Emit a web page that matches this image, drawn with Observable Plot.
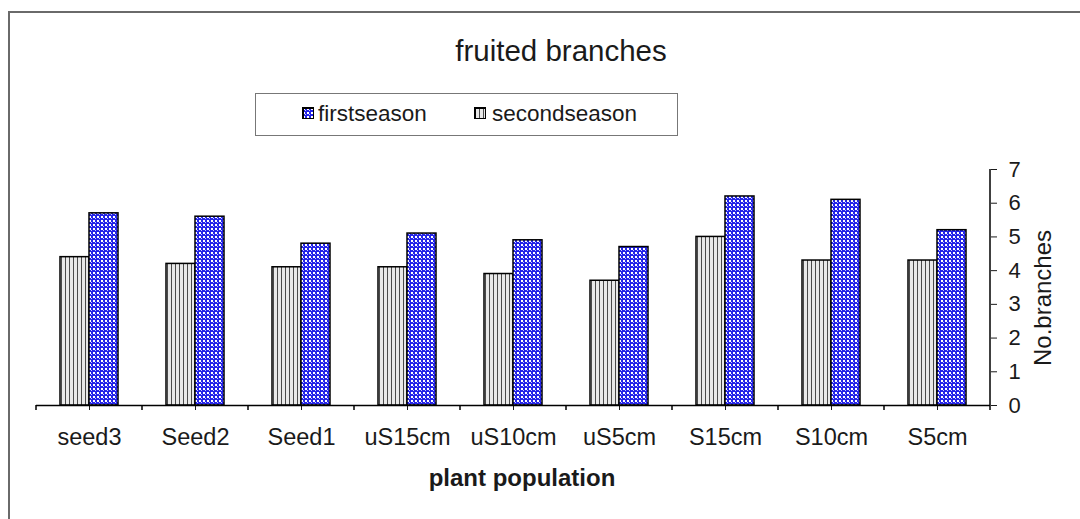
<!DOCTYPE html>
<html><head><meta charset="utf-8">
<script src="https://cdn.jsdelivr.net/npm/d3@7"></script>
<script src="https://cdn.jsdelivr.net/npm/@observablehq/plot@0.6"></script>
<style>
body{margin:0;background:#fff;font-family:Arial,"Liberation Sans",sans-serif;color:#1a1a1a;}
#wrap{position:relative;width:1080px;height:519px;overflow:hidden;background:#fff;}
#frame{position:absolute;left:8px;top:11px;width:1200px;height:600px;border:2px solid #6a6a6a;box-sizing:border-box;}
#chart{position:absolute;left:0;top:0;}
#title{position:absolute;left:0;width:1122px;top:36px;text-align:center;font-size:29.5px;line-height:1;}
#legend{position:absolute;left:255px;top:93px;width:423px;height:43px;border:1.5px solid #777;box-sizing:border-box;background:#fff;}
.sw{position:absolute;width:12px;height:12px;top:13px;border:1px solid #000;box-sizing:border-box;}
.lt{position:absolute;top:9px;font-size:22.5px;line-height:1;white-space:nowrap;}
#xlabel{position:absolute;left:0;width:1044px;top:466px;text-align:center;font-size:24px;font-weight:bold;line-height:1;}
#ylabel{position:absolute;left:1043px;top:298px;transform:translate(-50%,-50%) rotate(-90deg);font-size:24px;line-height:1;white-space:nowrap;}
</style></head><body>
<svg width="0" height="0" style="position:absolute">
  <defs>
    <pattern id="blueCheck" width="4" height="4" patternUnits="userSpaceOnUse">
      <rect width="4" height="4" fill="#2424e8"/>
      <rect x="0" y="0" width="2" height="2" fill="#ffffff"/>
      <rect x="2" y="2" width="1" height="1" fill="#c8c8ff"/>
    </pattern>
    <pattern id="grayStripe" width="4" height="4" patternUnits="userSpaceOnUse">
      <rect width="4" height="4" fill="#e8e8e8"/>
      <rect x="0" y="0" width="1" height="4" fill="#4a4a4a"/>
    </pattern>
  </defs>
</svg>
<div id="wrap">
  <div id="frame"></div>
  <div id="chart"></div>
  <div id="title">fruited branches</div>
  <div id="legend">
    <svg class="sw" style="left:46px" width="12" height="12"><rect width="12" height="12" fill="url(#blueCheck)" stroke="#000" stroke-width="2"/></svg>
    <div class="lt" style="left:62px">firstseason</div>
    <svg class="sw" style="left:218px" width="12" height="12"><rect width="12" height="12" fill="url(#grayStripe)" stroke="#000" stroke-width="2"/></svg>
    <div class="lt" style="left:236px">secondseason</div>
  </div>
  <div id="xlabel">plant population</div>
  <div id="ylabel">No.branches</div>
</div>
<script>
const categories = ["seed3","Seed2","Seed1","uS15cm","uS10cm","uS5cm","S15cm","S10cm","S5cm"];
const firstSeason = [5.7,5.6,4.8,5.1,4.9,4.7,6.2,6.1,5.2];
const secondSeason = [4.4,4.2,4.1,4.1,3.9,3.7,5.0,4.3,4.3];
const seriesNames = ["secondseason","firstseason"];
const yTicks = [0,1,2,3,4,5,6,7];

const rows = [];
categories.forEach((c,i)=>{
  rows.push({category:c, season:"secondseason", value:secondSeason[i]});
  rows.push({category:c, season:"firstseason", value:firstSeason[i]});
});

const plot = Plot.plot({
  width:1080, height:519,
  marginTop:169, marginBottom:114, marginLeft:35, marginRight:89,
  style:{fontFamily:'Arial, "Liberation Sans", sans-serif', fontSize:"23.5px", color:"#1a1a1a", background:"transparent"},
  fx:{domain:categories, padding:0, label:null, axis:"bottom", tickSize:5, tickPadding:18},
  x:{domain:seriesNames, paddingInner:0, paddingOuter:0.77, axis:null},
  y:{domain:[0,7], ticks:yTicks, tickFormat:d3.format("d"), axis:"right", label:null, tickSize:6, tickPadding:12},
  marks:[
    Plot.barY(rows.filter(d=>d.season==="secondseason"), {fx:"category", x:"season", y:"value", fill:"url(#grayStripe)", stroke:"#000", strokeWidth:1.5}),
    Plot.barY(rows.filter(d=>d.season==="firstseason"), {fx:"category", x:"season", y:"value", fill:"url(#blueCheck)", stroke:"#000", strokeWidth:1.5}),
    Plot.ruleY([0], {stroke:"#000", strokeWidth:1.5})
  ]
});
document.getElementById("chart").append(plot);

// axis line on the right and boundary ticks between categories, from the scales
const fx = plot.scale("fx"), ys = plot.scale("y");
const svg = d3.select(plot.tagName.toLowerCase()==="svg" ? plot : plot.querySelector("svg"));
svg.selectAll("g[aria-label='y-axis tick label'] text").style("font-size","22px");
const g = svg.append("g").attr("stroke","#000").attr("stroke-width",1.5);
const bounds = categories.map(c=>fx.apply(c));
bounds.push(fx.apply(categories[categories.length-1]) + fx.bandwidth);
const y0 = ys.apply(0), y7 = ys.apply(7);
bounds.forEach(b=>{
  g.append("line").attr("x1",b).attr("x2",b).attr("y1",y0).attr("y2",y0+5);
});
const xr = bounds[bounds.length-1];
g.append("line").attr("x1",xr).attr("x2",xr).attr("y1",y7).attr("y2",y0);
</script>
</body></html>
